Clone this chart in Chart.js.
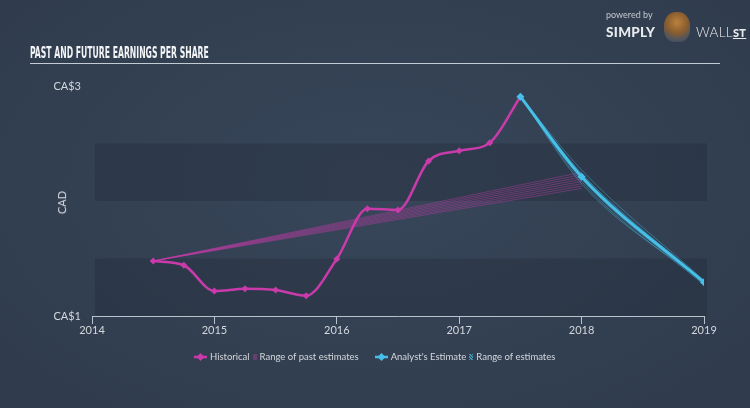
<!DOCTYPE html>
<html>
<head>
<meta charset="utf-8">
<script src="https://cdn.jsdelivr.net/npm/chart.js@4/dist/chart.umd.min.js"></script>
<style>
  html, body { margin: 0; padding: 0; }
  body {
    width: 750px; height: 408px; overflow: hidden; position: relative;
    background: radial-gradient(ellipse at 50% 45%, #38465a 0%, #334052 55%, #2f3b4b 100%);
    font-family: Lato, "Open Sans", sans-serif;
  }
  #chart { position: absolute; left: 0; top: 0; }
  .title {
    position: absolute; left: 30px; top: 43px;
    font-family: "Liberation Sans Narrow", "DejaVu Sans Condensed", sans-serif;
    font-weight: bold; font-size: 16px; color: #f2f4f6; white-space: nowrap;
    transform: scaleX(0.535); transform-origin: left top;
  }
  .rule { position: absolute; left: 30px; top: 63px; width: 690px; height: 1px; background: #c3cbd4; }
  .ylab { position: absolute; left: 50px; top: 196px; font-size: 11px; color: #d3d7dc;
    transform: rotate(-90deg); transform-origin: center; }
  .brand { position: absolute; left: 606px; top: 8px; color: #e8ebee; }
  .brand .pb { font-size: 9px; color: #c2c8cf; position: absolute; left: 0; top: 1px; white-space: nowrap; }
  .brand .simply { position: absolute; left: 0; top: 16px; font-weight: 900; font-size: 13.5px; letter-spacing: 0.3px; }
  .brand .wall { position: absolute; left: 90px; top: 16px; font-weight: 300; font-size: 13.5px; white-space: nowrap; letter-spacing: 0.3px; }
  .brand .wall u { font-weight: 900; font-size: 11px; }
  .brand .icon { position: absolute; left: 58px; top: 4px; width: 26px; height: 30px; border-radius: 45% 45% 40% 40%;
    background: radial-gradient(circle at 50% 35%, #b9823f 0%, #8a5d2e 45%, #4e5560 75%, #3a4452 100%); }
  .legend { position: absolute; left: 194px; top: 351px; display: flex; align-items: center; font-size: 9.5px; color: #d3d7dc; white-space: nowrap; }
  .legend span.t { margin-right: 3px; }
  .sw { display: inline-block; margin-right: 3px; }
</style>
</head>
<body>
<canvas id="chart" width="750" height="408"></canvas>
<div class="title">PAST AND FUTURE EARNINGS PER SHARE</div>
<div class="rule"></div>
<div class="ylab">CAD</div>
<div class="brand">
  <div class="pb">powered by</div>
  <div class="simply">SIMPLY</div>
  <div class="icon"></div>
  <div class="wall">WALL<u>ST</u></div>
</div>
<div class="legend">
  <canvas class="sw" id="lgHist" width="13" height="10"></canvas><span class="t">Historical</span>
  <span class="sw" style="width:4px;height:6px;background:rgba(201,59,171,0.35)"></span><span class="t" style="margin-right:16px">Range of past estimates</span>
  <canvas class="sw" id="lgEst" width="13" height="10"></canvas><span class="t">Analyst's Estimate</span>
  <span class="sw" style="width:4px;height:6px;background:repeating-linear-gradient(45deg,rgba(69,192,232,0.7) 0 1px,transparent 1px 2px)"></span><span class="t">Range of estimates</span>
</div>
<script>
// EPS data (CA$ per share)
const histYears = [2014.5, 2014.75, 2015.0, 2015.25, 2015.5, 2015.75, 2016.0, 2016.25, 2016.5, 2016.75, 2017.0, 2017.25, 2017.5];
const histEps = [1.478, 1.441, 1.217, 1.237, 1.226, 1.177, 1.496, 1.933, 1.922, 2.348, 2.437, 2.507, 2.907];

const estYears = [2017.5, 2018, 2019];
const estEps = [2.907, 2.211, 1.293];

// past estimate fan: from first historical point to each end value at 2018
const pastRangeStart = 1.478;
const pastRangeEnd = [2.25, 2.23, 2.21, 2.19, 2.17, 2.15, 2.13, 2.11];

// analyst range lines: value at 2018 and 2019 for each
const rangeAt2018 = [2.27, 2.24, 2.19, 2.17, 2.15, 2.23];
const rangeAt2019 = [1.31, 1.30, 1.28, 1.27, 1.29, 1.30];

const yTicks = [1, 3];
const xTicks = [2014, 2015, 2016, 2017, 2018, 2019];

const MAGENTA = '#c93bab';
const CYAN = '#46c0e8';

function pts(xs, ys) {
  return xs.map((x, i) => ({ x: x, y: ys[i] }));
}

const datasets = [];
datasets.push({
  label: "Analyst's Estimate",
  data: pts(estYears, estEps),
  borderColor: CYAN, backgroundColor: CYAN, borderWidth: 3,
  pointStyle: 'rectRot', pointRadius: 4, pointBorderWidth: 0,
  cubicInterpolationMode: 'monotone', order: 0
});
datasets.push({
  label: 'Historical',
  data: pts(histYears, histEps),
  borderColor: MAGENTA, backgroundColor: MAGENTA, borderWidth: 2.5,
  pointStyle: 'rectRot', pointRadius: 3.5, pointBorderWidth: 0,
  cubicInterpolationMode: 'monotone', order: 1
});
pastRangeEnd.forEach(v => {
  datasets.push({
    label: 'Range of past estimates',
    data: pts([histYears[0], 2018], [pastRangeStart, v]),
    borderColor: 'rgba(201,59,171,0.4)', borderWidth: 1, pointRadius: 0, order: 3
  });
});
rangeAt2018.forEach((v, i) => {
  datasets.push({
    label: 'Range of estimates',
    data: pts(estYears, [estEps[0], v, rangeAt2019[i]]),
    borderColor: 'rgba(70,192,232,0.4)', borderWidth: 1, pointRadius: 0,
    cubicInterpolationMode: 'monotone', order: 2
  });
});

// alternating horizontal bands behind the lines
const bandPlugin = {
  id: 'bands',
  beforeDatasetsDraw(chart) {
    const { ctx, chartArea, scales } = chart;
    const y = scales.y;
    ctx.save();
    ctx.fillStyle = 'rgba(30,40,52,0.32)';
    [[1, 1.5], [2, 2.5]].forEach(b => {
      const top = y.getPixelForValue(b[1]);
      const bot = y.getPixelForValue(b[0]);
      ctx.fillRect(chartArea.left + 3, top, chartArea.right - chartArea.left, bot - top);
    });
    ctx.restore();
  }
};

new Chart(document.getElementById('chart'), {
  type: 'line',
  data: { datasets: datasets },
  plugins: [bandPlugin],
  options: {
    responsive: false,
    animation: false,
    layout: { padding: { left: 10, right: 46, top: 86, bottom: 60 } },
    plugins: { legend: { display: false }, tooltip: { enabled: false } },
    scales: {
      x: {
        type: 'linear', min: 2014, max: 2019,
        afterBuildTicks: s => { s.ticks = xTicks.map(v => ({ value: v })); },
        afterFit: s => { s.height = 32; },
        border: { display: true, color: '#b9c3ce', width: 1 },
        grid: { drawOnChartArea: false, drawTicks: true, tickLength: 8, color: '#b9c3ce' },
        ticks: { color: '#d3d7dc', font: { family: 'Lato', size: 11 }, padding: 0, callback: v => String(v) }
      },
      y: {
        min: 1, max: 3,
        afterBuildTicks: s => { s.ticks = yTicks.map(v => ({ value: v })); },
        afterFit: s => { s.width = 82; },
        border: { display: false },
        grid: { display: false },
        ticks: { color: '#d3d7dc', font: { family: 'Lato', size: 11 }, padding: 3, callback: v => 'CA$' + v }
      }
    }
  }
});

// legend swatches
function drawSwatch(id, color) {
  const c = document.getElementById(id).getContext('2d');
  c.strokeStyle = color; c.lineWidth = 2.5;
  c.beginPath(); c.moveTo(0, 5); c.lineTo(13, 5); c.stroke();
  c.fillStyle = color;
  c.beginPath(); c.moveTo(6.5, 1); c.lineTo(10.5, 5); c.lineTo(6.5, 9); c.lineTo(2.5, 5); c.closePath(); c.fill();
}
drawSwatch('lgHist', MAGENTA);
drawSwatch('lgEst', CYAN);
</script>
</body>
</html>
